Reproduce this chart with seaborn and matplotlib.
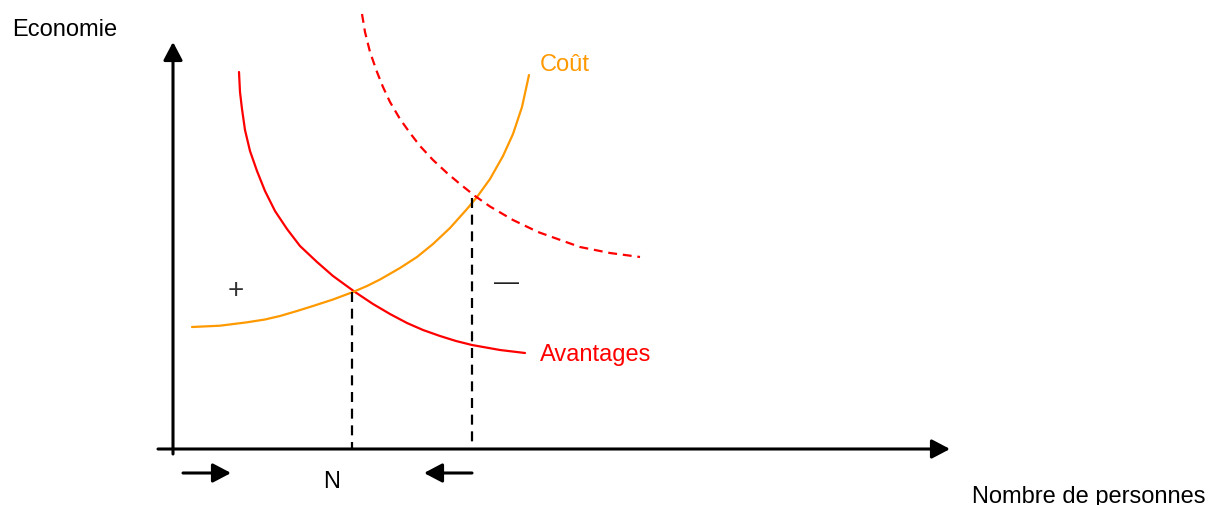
import matplotlib
matplotlib.use('Agg')
import matplotlib.pyplot as plt
import seaborn as sns
import pandas as pd
import numpy as np

# Points (coordonnees pixel, y vers le bas)
avantages_x = [239, 240, 242, 245, 250, 257, 265, 275, 287, 300, 317, 333, 355,
               373, 390, 407, 423, 440, 456, 472, 500, 525]
avantages_y = [73, 93, 110, 131, 152, 172, 192, 212, 230, 247, 263, 277, 293,
               305, 315, 324, 331, 337, 342, 346, 351, 354]

cout_x = [192, 220, 247, 265, 280, 297, 313, 333, 353, 367, 380, 400, 417, 433,
          450, 467, 477, 490, 503, 513, 522, 529]
cout_y = [328, 326.7, 323.3, 320.5, 317, 312, 307, 300.5, 293, 287, 280.5, 269, 258, 245,
          229, 210, 198, 180, 157, 135, 108, 76]

avantages2_x = [362, 365, 370, 377, 383, 390, 400, 410, 420, 433, 447, 460, 475,
                490, 513, 538, 580, 610, 640]
avantages2_y = [15, 33, 53, 73, 88, 103, 120, 134, 147, 161, 174, 185, 197,
                207.5, 221, 233, 248, 254, 258]

equilibres_x = [352, 472]
equilibres_y = [293, 199]

ROUGE = '#ff0000'
ORANGE = '#ff9900'

sns.set_theme(style='white')
plt.rcParams['font.family'] = ['Liberation Sans', 'DejaVu Sans']

fig = plt.figure(figsize=(12.11, 5.06), dpi=100)
ax = fig.add_axes([0, 0, 1, 1])

df_av = pd.DataFrame({'x': avantages_x, 'y': avantages_y})
df_co = pd.DataFrame({'x': cout_x, 'y': cout_y})
df_av2 = pd.DataFrame({'x': avantages2_x, 'y': avantages2_y})

sns.lineplot(data=df_av, x='x', y='y', sort=False, color=ROUGE, linewidth=1.6, ax=ax)
sns.lineplot(data=df_co, x='x', y='y', sort=False, color=ORANGE, linewidth=1.6, ax=ax)
sns.lineplot(data=df_av2, x='x', y='y', sort=False, color=ROUGE, linewidth=1.6, ax=ax)
ax.lines[-1].set_dashes((4, 2.6))
for l in ax.lines:
    l.set_solid_joinstyle('round')
    l.set_dash_joinstyle('round')

# axes avec fleches
axe_fleche = dict(arrowstyle='-|>,head_length=1.1,head_width=0.58', color='black',
                  lw=2.2, shrinkA=0, shrinkB=0, mutation_scale=10)
ax.annotate('', xy=(173, 43), xytext=(173, 455), arrowprops=axe_fleche)
ax.annotate('', xy=(950, 450), xytext=(158, 450), arrowprops=axe_fleche)

# pointilles verticaux
for xe, ye in zip(equilibres_x, equilibres_y):
    ax.plot([xe, xe], [ye, 450], color='black', lw=1.6, dashes=(4.5, 3))

# petites fleches
ax.annotate('', xy=(231, 474), xytext=(183, 474), arrowprops=axe_fleche)
ax.annotate('', xy=(424, 474), xytext=(472, 474), arrowprops=axe_fleche)

# textes
ax.text(12, 30, 'Economie', fontsize=17, va='center', ha='left', color='black')
ax.text(540, 65, 'Coût', fontsize=17, va='center', ha='left', color=ORANGE)
ax.text(540, 355, 'Avantages', fontsize=17, va='center', ha='left', color=ROUGE)
ax.text(236, 291, '+', fontsize=20, va='center', ha='center', color='#333333')
ax.text(507, 283, '—', fontsize=18, va='center', ha='center', color='#222222')
ax.text(332, 482, 'N', fontsize=17, va='center', ha='center', color='black')
ax.text(972, 497, 'Nombre de personnes', fontsize=17, va='center', ha='left', color='black')

ax.set_xlim(0, 1211)
ax.set_ylim(506, 0)
ax.set_axis_off()

fig.savefig('out.png', dpi=100)
